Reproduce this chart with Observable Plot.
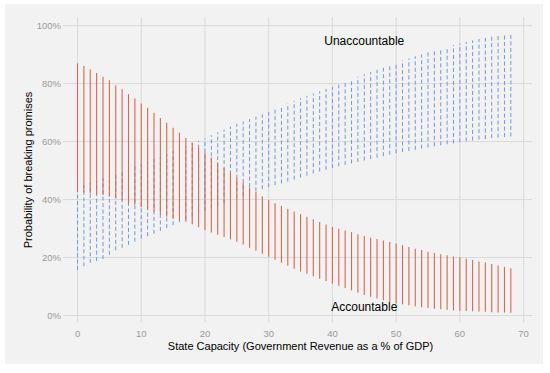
<!DOCTYPE html>
<html><head><meta charset="utf-8">
<script src="https://cdn.jsdelivr.net/npm/d3@7"></script>
<script src="https://cdn.jsdelivr.net/npm/@observablehq/plot@0.6"></script>
<style>
html,body{margin:0;padding:0;background:#fff;}
#panel{position:absolute;left:5px;top:4px;width:538px;height:360px;background:#f2f2f2;}
#panel svg{display:block;}
</style></head><body><div id="panel"></div>
<script>
const capacity = [0,1,2,3,4,5,6,7,8,9,10,11,12,13,14,15,16,17,18,19,20,21,22,23,24,25,26,27,28,29,30,31,32,33,34,35,36,37,38,39,40,41,42,43,44,45,46,47,48,49,50,51,52,53,54,55,56,57,58,59,60,61,62,63,64,65,66,67,68];

// Accountable (solid red) interval, % probability
const accUpper = [86.8,85.9,84.7,83.5,82.2,81,79.3,77.9,76.2,74.7,73,71.5,69.8,68,66.3,64.6,62.9,61.1,59.5,57.8,56.1,54.3,52.5,50.7,49,47.3,45.6,44,42.5,41,39.7,38.6,37.6,36.6,35.7,34.8,33.9,33,32.1,31.2,30.4,29.8,29.2,28.6,27.9,27.3,26.7,26.2,25.7,25.2,24.7,24.1,23.5,22.9,22.4,21.8,21.4,21,20.6,20.2,19.9,19.4,19,18.5,18.1,17.6,17.1,16.6,16.1];
const accLower = [42.5,42.3,42,41.7,41.4,40.9,40.3,39.5,38.6,38,37.3,36.5,35.6,34.7,33.9,33.3,32.8,32.2,31.3,30.3,29.3,28.5,27.7,26.9,26.1,25.3,24.3,23.2,22.2,21.1,20.1,19.1,18,17,16,15,14.2,13.4,12.5,11.7,10.9,10.1,9.3,8.5,7.7,6.9,6.3,5.7,5.1,4.5,4,3.7,3.4,3,2.7,2.4,2.2,2,1.8,1.6,1.5,1.4,1.3,1.2,1.1,1,0.9,0.85,0.8];

// Unaccountable (dashed blue) interval, % probability
const unaccUpper = [44,44.8,45.6,46.4,47.2,48,48.8,49.6,50.4,51.2,52,52.9,53.8,54.7,55.6,56.5,57.4,58.3,59.2,60.1,61,62,63,64,65,66,66.8,67.6,68.4,69.2,70,71,72,73,73.9,74.8,75.6,76.4,77.2,78,78.6,79.5,80.4,81.3,82.2,83,83.8,84.6,85.4,86.2,87,87.8,88.5,89.2,89.9,90.6,91.3,91.9,92.5,93.1,93.7,94.2,94.7,95.2,95.6,96,96.4,96.8,97.1];
const unaccLower = [15.5,16.8,18,18.6,19.3,20.8,22.3,23.2,24.2,25.3,26.4,27.2,28,29,30,31,32,33,34,35,35.9,36.8,37.7,38.6,39.5,40.3,41.1,41.9,42.7,43.4,44.1,44.8,45.4,46,46.7,47.4,48.1,48.8,49.5,50.1,50.7,51.3,51.8,52.3,52.8,53.3,53.8,54.3,54.8,55.3,55.8,56.2,56.6,57,57.4,57.8,58.2,58.5,58.9,59.2,59.6,59.9,60.2,60.5,60.7,61,61.2,61.4,61.6];

const xTicks = [0,10,20,30,40,50,60,70];
const yTicks = [0,20,40,60,80,100];

const seriesLabels = ["Unaccountable","Accountable"];
const labelX = [45,45];
const labelY = [94.6,2.9];

const xTitle = "State Capacity (Government Revenue as a % of GDP)";
const yTitle = "Probability of breaking promises";

const rows = capacity.map((x,i)=>({x, accLo:accLower[i], accHi:accUpper[i], unLo:unaccLower[i], unHi:unaccUpper[i]}));
const labelRows = seriesLabels.map((t,i)=>({t, x:labelX[i], y:labelY[i]}));

const FONT = "'Liberation Sans', Arial, Helvetica, sans-serif";

const chart = Plot.plot({
  width:538, height:360,
  marginLeft:58, marginRight:11, marginTop:13, marginBottom:42,
  style:{background:"transparent", fontFamily:FONT, overflow:"visible"},
  x:{domain:[-2.2,71.4]},
  y:{domain:[-2.4,102.8]},
  marks:[
    Plot.gridX(xTicks,{stroke:"#d9d9d9", strokeOpacity:1, strokeWidth:1}),
    Plot.gridY(yTicks,{stroke:"#d9d9d9", strokeOpacity:1, strokeWidth:1}),
    Plot.ruleX(rows,{x:"x", y1:"unLo", y2:"unHi", stroke:"#7197dc", strokeWidth:1, strokeDasharray:"4,2.5"}),
    Plot.ruleX(rows,{x:"x", y1:"accLo", y2:"accHi", stroke:"#d7684f", strokeWidth:1.1}),
    Plot.text(labelRows,{x:"x", y:"y", text:"t", fontSize:12, fill:"#000", textAnchor:"middle", lineAnchor:"middle"}),
    Plot.axisX(xTicks,{tickSize:0, tickPadding:8, fill:"#9a9a9a", fontSize:9.5, label:null, fontFamily:FONT}),
    Plot.axisY(yTicks,{tickSize:0, tickPadding:2.5, fill:"#9a9a9a", fontSize:9.5, label:null, tickFormat:d=>d+"%", fontFamily:FONT}),
    Plot.text([xTitle],{frameAnchor:"bottom", dy:24, dx:2.5, text:d=>d, fontSize:11, fill:"#000", textAnchor:"middle", lineAnchor:"middle"}),
    Plot.text([yTitle],{frameAnchor:"left", dx:-35, text:d=>d, fontSize:11, fill:"#000", rotate:-90, textAnchor:"middle", lineAnchor:"middle"})
  ]
});
document.getElementById("panel").appendChild(chart);
</script></body></html>
